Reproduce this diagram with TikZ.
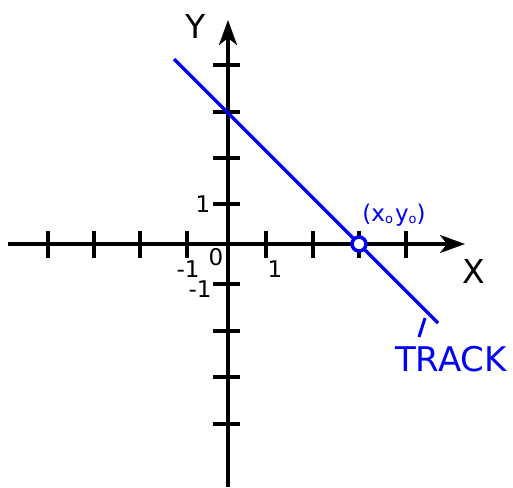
\documentclass[tikz,border=0pt]{standalone}
\usepackage{fontspec}
\setmainfont{DejaVu Sans}
\usetikzlibrary{arrows.meta}
\definecolor{trackblue}{RGB}{0,0,245}
\begin{document}
\begin{tikzpicture}[x=1pt,y=-1pt,
  axis/.style={line width=3.5pt,-{Stealth[length=25pt,width=18pt,inset=7pt]}},
  tick/.style={line width=3.5pt},
  big/.style={font=\fontsize{33}{33}\selectfont,inner sep=0pt},
  num/.style={font=\fontsize{23}{23}\selectfont,inner sep=0pt}]
\tikzset{trackline/.style={line width=3.5pt,trackblue}}
\useasboundingbox (0,0) rectangle (513,487);
% axes
\coordinate (xs) at (8,244);
\coordinate (xe) at (465,244);
\coordinate (ys) at (228,487);
\coordinate (ye) at (228,20);
\draw[axis] (xs) -- (xe);
\draw[axis] (ys) -- (ye);
% x ticks
\foreach \x in {48,94,140,187,266,313,359,406}
  \draw[tick] (\x,231) -- (\x,258);
% y ticks
\foreach \y in {65,112,158,204,284,331,377,424}
  \draw[tick] (213,\y) -- (240,\y);
% labels
\node[big] (Y) at (196,26) {Y};
\node[big] (X) at (474,271) {X};
\node[num] (one_y) at (203,204) {1};
\node[num] (mone_x) at (188,269) {-1};
\node[num] (zero) at (216,257) {0};
\node[num] (one_x) at (275,269) {1};
\node[num] (mone_y) at (200,289) {-1};
% track
\coordinate (ts) at (174,59);
\coordinate (te) at (438,323);
\draw[trackline] (ts) -- (te);
\node[circle,draw=trackblue,line width=3.5pt,fill=white,minimum size=14pt,inner sep=0pt] (p0) at (359,244) {};
\node[trackblue,inner sep=0pt,font=\fontsize{23}{23}\selectfont] (p0lab) at (394,215)
  {(x\raisebox{-2pt}{\fontsize{13}{13}\selectfont o}\hspace{2pt}y\raisebox{-2pt}{\fontsize{13}{13}\selectfont o})};
\coordinate (sl1) at (419,337);
\coordinate (sl2) at (425,318);
\draw[trackline,line width=3pt] (sl1) -- (sl2);
\node[big,trackblue,font=\fontsize{34}{34}\selectfont] (track) at (451,359) {TRACK};
\end{tikzpicture}
\end{document}
